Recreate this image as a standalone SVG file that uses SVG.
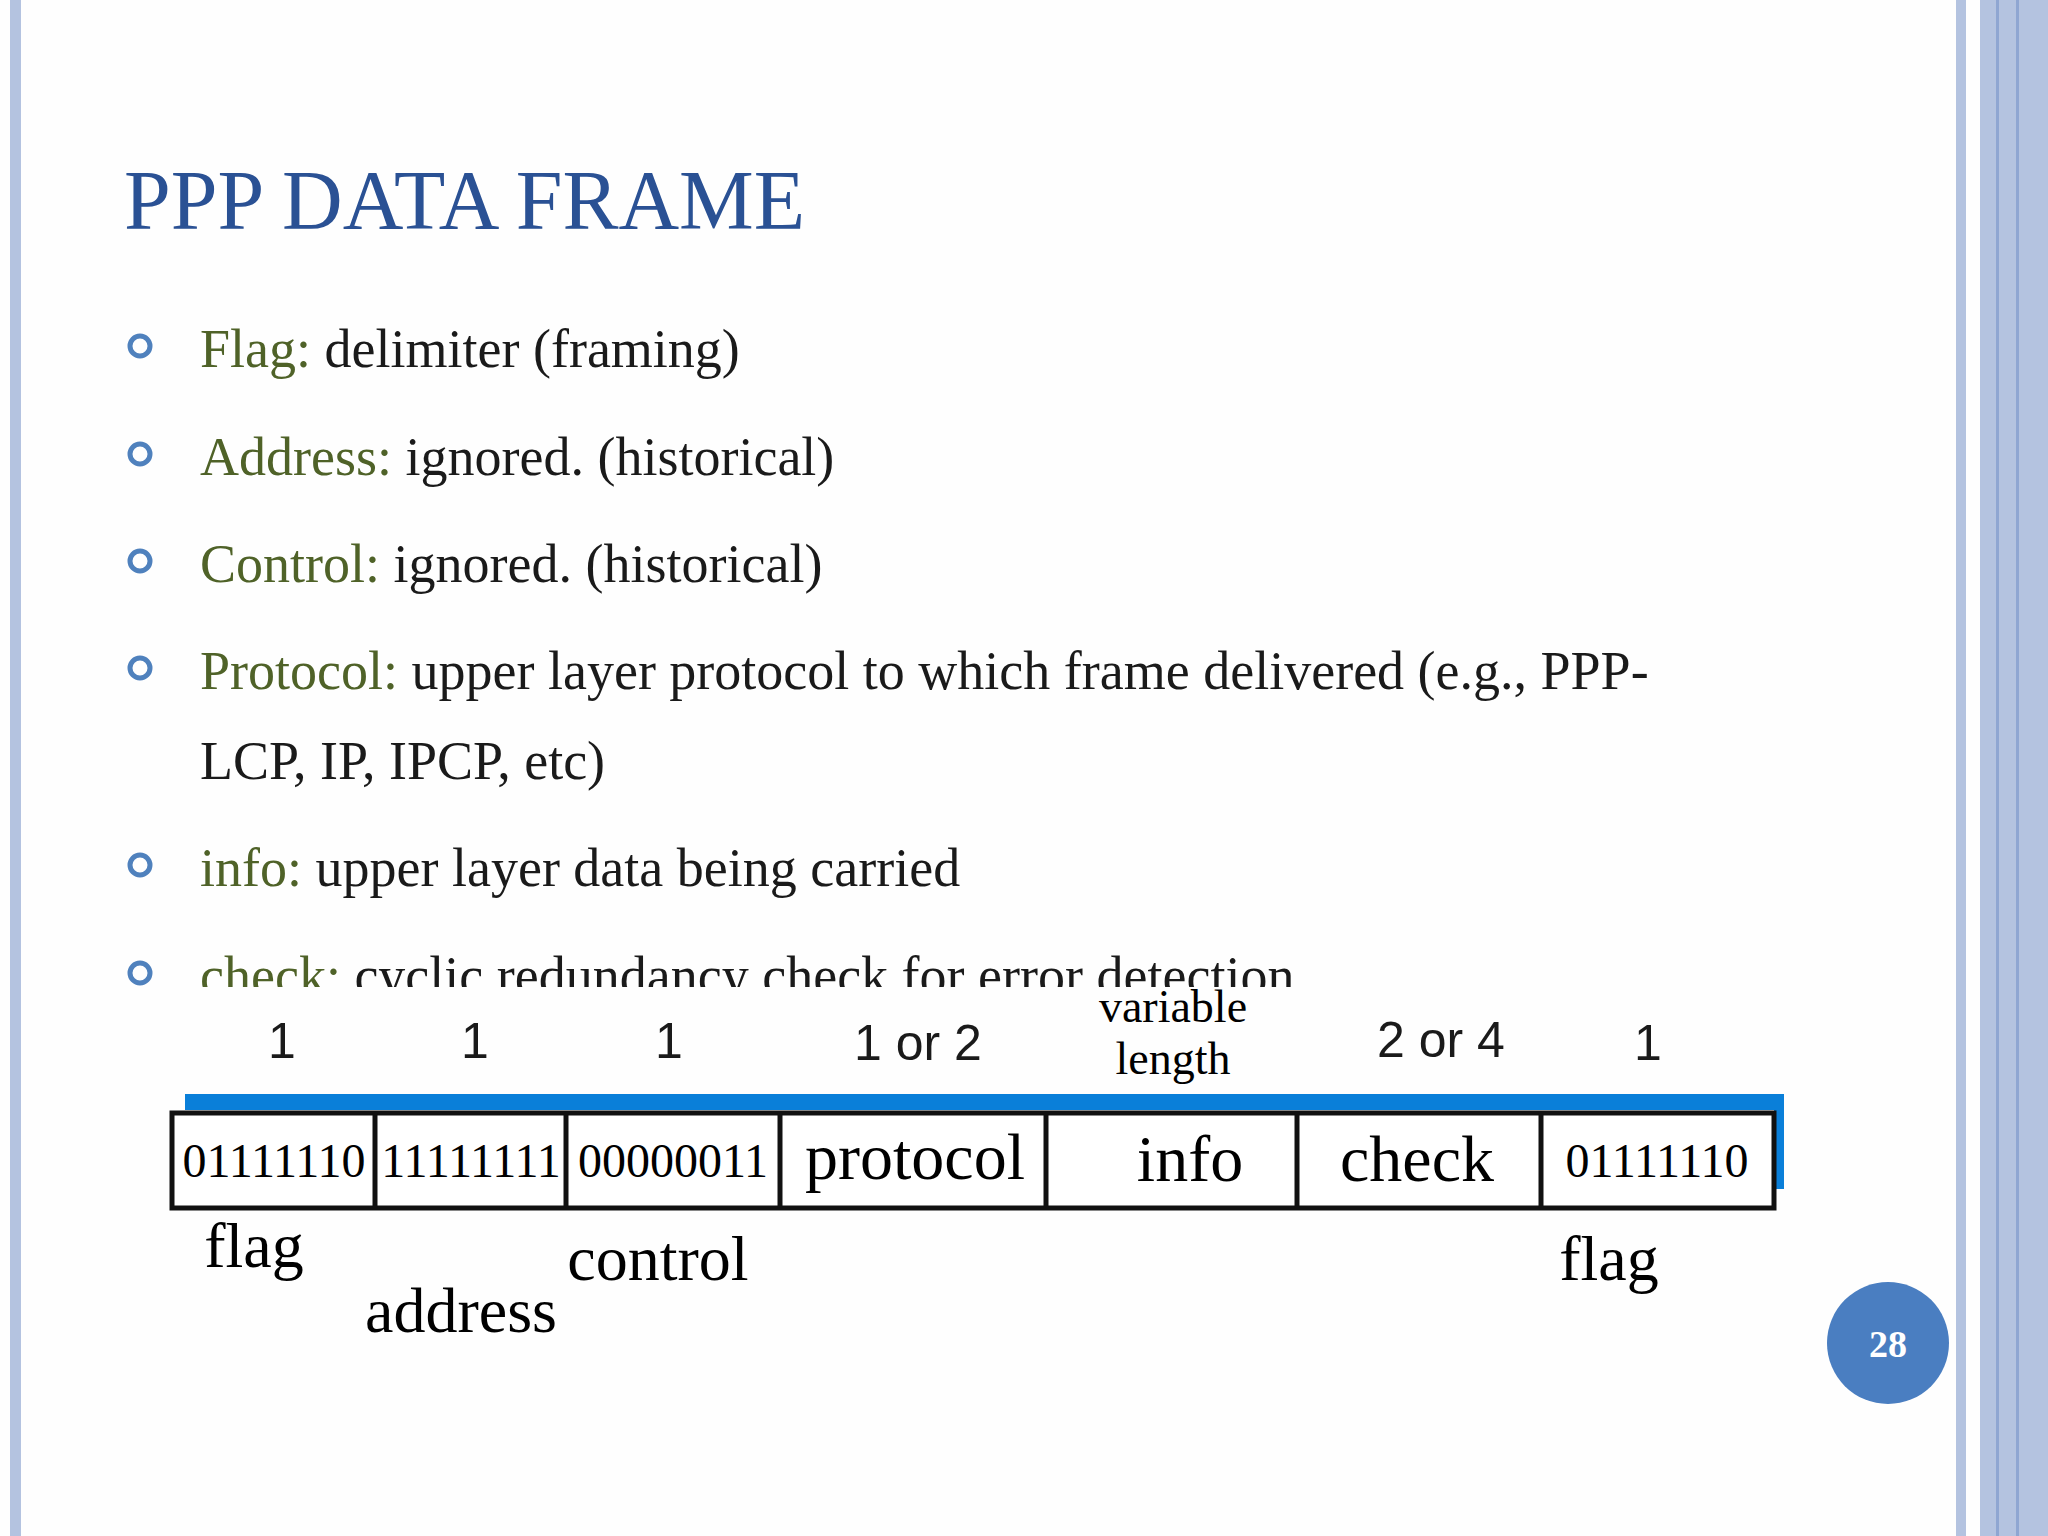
<svg xmlns="http://www.w3.org/2000/svg" width="2048" height="1536" viewBox="0 0 2048 1536">
<style>
.s{font-family:"Liberation Serif",serif;fill:#1a1a1a}
.l{fill:#4F6228}
.n{font-family:"Liberation Sans",sans-serif;font-size:50px;fill:#1a1a1a;text-anchor:middle}
.b{fill:none;stroke:#4F81BD;stroke-width:5}
.c{font-family:"Liberation Serif",serif;fill:#000;text-anchor:middle}
</style>
<defs><clipPath id="cl"><rect x="0" y="0" width="2048" height="987"/></clipPath></defs>
<rect width="2048" height="1536" fill="#FEFEFE"/>
<rect x="10" y="0" width="11" height="1536" fill="#B4C3E0"/>
<rect x="1956" y="0" width="10" height="1536" fill="#B4C3E0"/>
<rect x="1980" y="0" width="68" height="1536" fill="#B4C3E0"/>
<rect x="1996" y="0" width="3" height="1536" fill="#8FA6D2"/>
<rect x="2016" y="0" width="3" height="1536" fill="#8FA6D2"/>
<text x="124" y="229" font-family="Liberation Serif,serif" font-size="84" fill="#2A5194">PPP DATA FRAME</text>
<g id="bullets">
<circle class="b" cx="140" cy="346" r="10"/><text class="s" x="200" y="367" font-size="54"><tspan class="l">Flag:</tspan> delimiter (framing)</text>
<circle class="b" cx="140" cy="454" r="10"/><text class="s" x="200" y="475" font-size="54"><tspan class="l">Address:</tspan>  ignored. (historical)</text>
<circle class="b" cx="140" cy="561" r="10"/><text class="s" x="200" y="582" font-size="54"><tspan class="l">Control:</tspan> ignored. (historical)</text>
<circle class="b" cx="140" cy="668" r="10"/><text class="s" x="200" y="689" font-size="54"><tspan class="l">Protocol:</tspan> upper layer protocol to which frame delivered (e.g., PPP-</text>
<text class="s" x="200" y="779" font-size="54">LCP, IP, IPCP, etc)</text>
<circle class="b" cx="140" cy="865" r="10"/><text class="s" x="200" y="886" font-size="54"><tspan class="l">info:</tspan> upper layer data being carried</text>
<circle class="b" cx="140" cy="973" r="10"/><text class="s" x="200" y="994" font-size="54" clip-path="url(#cl)"><tspan class="l">check:</tspan>  cyclic redundancy check for error detection</text>
</g>
<g id="sizes">
<text class="n" x="282" y="1058">1</text><text class="n" x="475" y="1058">1</text><text class="n" x="669" y="1058">1</text>
<text class="n" x="918" y="1060">1 or 2</text>
<text class="c" x="1173" y="1022" font-size="46">variable</text><text class="c" x="1173" y="1074" font-size="46">length</text>
<text class="n" x="1441" y="1057">2 or 4</text><text class="n" x="1648" y="1060">1</text>
</g>
<g id="frame">
<path d="M185 1094H1784V1189H1774V1110H185Z" fill="#0A7FD9"/>
<rect x="172" y="1113" width="1602" height="95" fill="#fff" stroke="#111" stroke-width="5"/>
<g stroke="#111" stroke-width="5"><line x1="375" y1="1113" x2="375" y2="1208"/><line x1="566" y1="1113" x2="566" y2="1208"/><line x1="780" y1="1113" x2="780" y2="1208"/><line x1="1046" y1="1113" x2="1046" y2="1208"/><line x1="1297" y1="1113" x2="1297" y2="1208"/><line x1="1541" y1="1113" x2="1541" y2="1208"/></g>
<text class="c" x="274" y="1177" font-size="48">01111110</text>
<text class="c" x="471" y="1177" font-size="48">11111111</text>
<text class="c" x="673" y="1177" font-size="48">00000011</text>
<text class="c" x="915" y="1179" font-size="66">protocol</text>
<text class="c" x="1190" y="1181" font-size="66">info</text>
<text class="c" x="1417" y="1181" font-size="66">check</text>
<text class="c" x="1657" y="1177" font-size="48">01111110</text>
</g>
<g id="labels">
<text class="c" x="254" y="1267" font-size="64">flag</text>
<text class="c" x="461" y="1332" font-size="64">address</text>
<text class="c" x="658" y="1280" font-size="64">control</text>
<text class="c" x="1609" y="1280" font-size="64">flag</text>
</g>
<circle cx="1888" cy="1343" r="61" fill="#4A7EC1"/>
<text x="1888" y="1357" text-anchor="middle" font-family="Liberation Serif,serif" font-weight="bold" font-size="38" fill="#fff">28</text>
</svg>
